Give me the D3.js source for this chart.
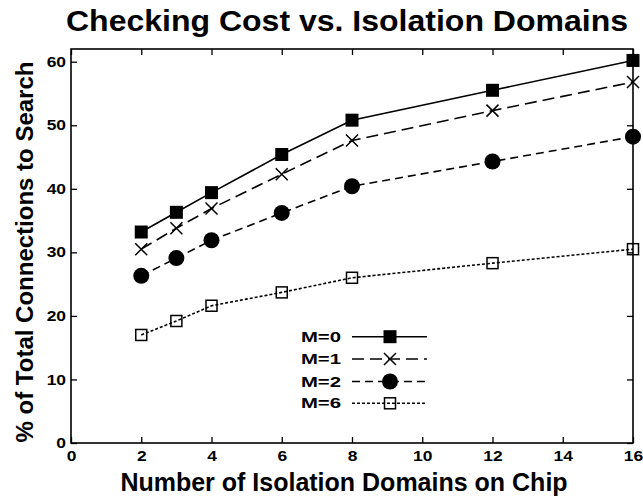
<!DOCTYPE html>
<html><head><meta charset="utf-8">
<script src="https://cdn.jsdelivr.net/npm/d3@7/dist/d3.min.js"></script>
<style>
html,body{margin:0;padding:0;background:#fff;}
svg{display:block;font-family:"Liberation Sans",Arial,Helvetica,sans-serif;font-weight:bold;}
</style></head>
<body>
<svg id="chart" width="643" height="500"></svg>
<script>
const xValues = [2, 3, 4, 6, 8, 12, 16];
const seriesNames = ["M=0", "M=1", "M=2", "M=6"];
const m0 = [33.2, 36.3, 39.4, 45.4, 50.8, 55.5, 60.2];
const m1 = [30.5, 33.8, 36.9, 42.3, 47.6, 52.3, 56.8];
const m2 = [26.3, 29.1, 31.9, 36.2, 40.4, 44.3, 48.2];
const m6 = [17.0, 19.2, 21.6, 23.7, 26.0, 28.3, 30.5];
const xTicks = [0, 2, 4, 6, 8, 10, 12, 14, 16];
const yTicks = [0, 10, 20, 30, 40, 50, 60];
const titleText = "Checking Cost vs. Isolation Domains";
const xLabel = "Number of Isolation Domains on Chip";
const yLabel = "% of Total Connections to Search";

const seriesValues = [m0, m1, m2, m6];
const styles = [
  {dash: null, marker: "fsquare"},
  {dash: "12,6", marker: "cross"},
  {dash: "8,5", marker: "circle"},
  {dash: "3,2", marker: "osquare"}
];

const svg = d3.select("#chart");
const L = 71, R = 633, T = 49, B = 443;
const x = d3.scaleLinear().domain([0, 16]).range([L, R]);
const y = d3.scaleLinear().domain([0, 62]).range([B, T]);

function stretch(sel, factor) {
  sel.each(function () {
    const w = this.getComputedTextLength();
    d3.select(this).attr("textLength", w * factor).attr("lengthAdjust", "spacingAndGlyphs");
  });
}

// title
svg.append("text").attr("x", 347).attr("y", 31).attr("text-anchor", "middle")
  .attr("font-size", 29).text(titleText)
  .attr("textLength", 562).attr("lengthAdjust", "spacingAndGlyphs");

// axes (inward ticks on all four sides)
const tickLen = 6;
const gx = svg.append("g").attr("transform", `translate(0,${B})`)
  .call(d3.axisBottom(x).tickValues(xTicks).tickSizeInner(-tickLen).tickSizeOuter(0).tickPadding(8));
const gxTop = svg.append("g").attr("transform", `translate(0,${T})`)
  .call(d3.axisTop(x).tickValues(xTicks).tickSizeInner(-tickLen).tickSizeOuter(0).tickFormat(""));
const gy = svg.append("g").attr("transform", `translate(${L},0)`)
  .call(d3.axisLeft(y).tickValues(yTicks).tickSizeInner(-tickLen).tickSizeOuter(0).tickPadding(5));
const gyR = svg.append("g").attr("transform", `translate(${R},0)`)
  .call(d3.axisRight(y).tickValues(yTicks).tickSizeInner(-tickLen).tickSizeOuter(0).tickFormat(""));
[gx, gxTop, gy, gyR].forEach(g => {
  g.select(".domain").remove();
  g.selectAll(".tick line").attr("stroke", "#000").attr("stroke-width", 1.3);
  g.selectAll(".tick text").attr("font-size", 14.5).attr("font-weight", "bold")
    .attr("font-family", "Liberation Sans, Arial, sans-serif").attr("fill", "#000");
});
gx.selectAll(".tick text").call(s => stretch(s, 1.2));
gy.selectAll(".tick text").call(s => stretch(s, 1.2));

// frame
svg.append("rect").attr("x", L).attr("y", T).attr("width", R - L).attr("height", B - T)
  .attr("fill", "none").attr("stroke", "#000").attr("stroke-width", 1.6);

// axis labels
svg.append("text").attr("x", 344).attr("y", 491).attr("text-anchor", "middle")
  .attr("font-size", 25).text(xLabel);
svg.append("text").attr("transform", "translate(33,252) rotate(-90)").attr("text-anchor", "middle")
  .attr("font-size", 24).text(yLabel);

function drawMarker(g, type, cx, cy) {
  if (type === "fsquare") {
    g.append("rect").attr("x", cx - 6.5).attr("y", cy - 6.5).attr("width", 13).attr("height", 13).attr("fill", "#000");
  } else if (type === "osquare") {
    g.append("rect").attr("x", cx - 5.5).attr("y", cy - 5.5).attr("width", 11).attr("height", 11)
      .attr("fill", "none").attr("stroke", "#000").attr("stroke-width", 1.5);
  } else if (type === "circle") {
    g.append("circle").attr("cx", cx).attr("cy", cy).attr("r", 8).attr("fill", "#000");
  } else if (type === "cross") {
    g.append("path").attr("d", `M${cx - 6},${cy - 6}L${cx + 6},${cy + 6}M${cx - 6},${cy + 6}L${cx + 6},${cy - 6}`)
      .attr("stroke", "#000").attr("stroke-width", 1.5).attr("fill", "none");
  }
}

const line = d3.line().x(d => x(d[0])).y(d => y(d[1]));
seriesValues.forEach((vals, i) => {
  const pts = xValues.map((xv, j) => [xv, vals[j]]);
  const g = svg.append("g");
  g.append("path").attr("d", line(pts)).attr("fill", "none").attr("stroke", "#000")
    .attr("stroke-width", 1.6).attr("stroke-dasharray", styles[i].dash);
  pts.forEach(p => drawMarker(g, styles[i].marker, x(p[0]), y(p[1])));
});

// legend
const legY = [336.7, 359, 381.5, 403.3];
seriesNames.forEach((name, i) => {
  const g = svg.append("g");
  g.append("text").attr("x", 341).attr("y", legY[i] + 5).attr("text-anchor", "end")
    .attr("font-size", 14.5).text(name).call(s => stretch(s, 1.4));
  g.append("line").attr("x1", 352).attr("x2", 427).attr("y1", legY[i]).attr("y2", legY[i])
    .attr("stroke", "#000").attr("stroke-width", 1.6).attr("stroke-dasharray", styles[i].dash);
  drawMarker(g, styles[i].marker, 390, legY[i]);
});
</script>
</body></html>
